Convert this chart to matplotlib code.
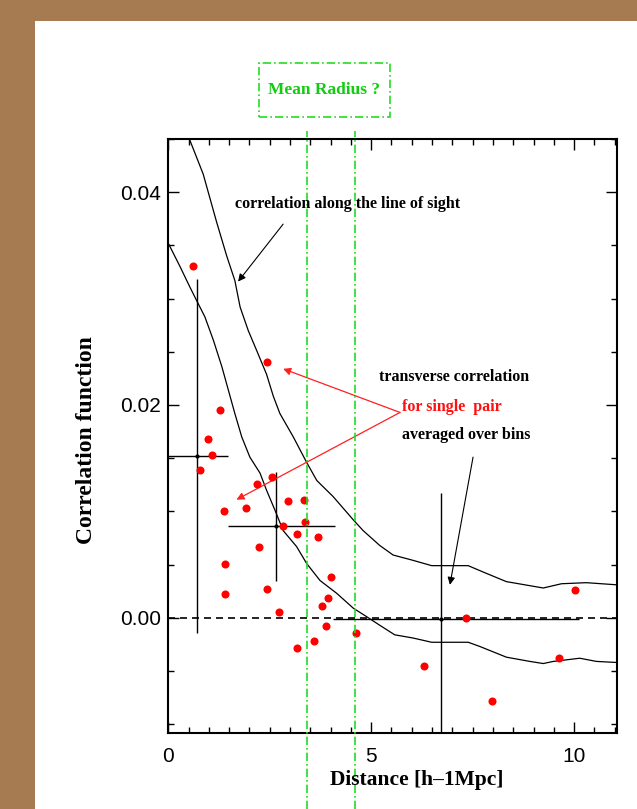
import numpy as np
import matplotlib
matplotlib.use("Agg")
import matplotlib.pyplot as plt
from matplotlib.patches import Rectangle
from matplotlib.lines import Line2D
import matplotlib.transforms as mtransforms

# ---------------- data ----------------
pair_x = [0.62, 2.44, 1.27, 0.97, 1.07, 0.78, 2.55, 2.18, 2.94, 3.35, 1.91, 1.38,
          3.38, 2.83, 3.16, 3.68, 2.23, 1.39, 4.01, 2.44, 1.39, 3.94, 3.78, 2.73,
          3.88, 4.63, 3.16, 3.58, 6.30, 7.97, 7.34, 9.64, 10.02]
pair_y = [0.0331, 0.0240, 0.0195, 0.0168, 0.0153, 0.0139, 0.0132, 0.0126, 0.0110,
          0.0111, 0.0103, 0.0100, 0.0090, 0.0086, 0.0079, 0.0076, 0.0067, 0.0051,
          0.0038, 0.0027, 0.0022, 0.0019, 0.0011, 0.0005, -0.0008, -0.0014,
          -0.0028, -0.0022, -0.0045, -0.0078, 0.0000, -0.0038, 0.0026]

bin_x = [0.70, 2.645, 6.73]
bin_y = [0.0152, 0.0086, -0.0001]
bin_xerr_lo = [0.70, 1.18, 2.67]
bin_xerr_hi = [0.77, 1.47, 3.39]
bin_yerr = [0.0166, 0.0051, 0.0118]

upper_x = [0.53, 0.86, 1.19, 1.44, 1.64, 1.77, 1.97, 2.18, 2.42, 2.59, 2.75, 3.08,
           3.41, 3.66, 4.06, 4.56, 4.80, 5.21, 5.54, 6.03, 6.49, 7.39, 7.76, 8.33,
           9.24, 9.69, 10.30, 11.05]
upper_y = [0.0449, 0.0417, 0.0372, 0.0340, 0.0317, 0.0292, 0.0270, 0.0251, 0.0229,
           0.0208, 0.0192, 0.0170, 0.0146, 0.0129, 0.0114, 0.0092, 0.0082, 0.0068,
           0.0059, 0.0054, 0.0049, 0.0049, 0.0043, 0.0034, 0.0028, 0.0032, 0.0033,
           0.0031]

lower_x = [0.00, 0.29, 0.53, 0.70, 0.90, 1.11, 1.32, 1.48, 1.64, 1.81, 2.01, 2.26,
           2.42, 2.63, 2.83, 3.16, 3.41, 3.74, 4.15, 4.56, 4.89, 5.21, 5.58, 6.03,
           6.49, 7.39, 7.68, 8.33, 8.91, 9.24, 9.49, 10.14, 10.55, 11.05]
lower_y = [0.0352, 0.0330, 0.0311, 0.0298, 0.0283, 0.0261, 0.0236, 0.0214, 0.0192,
           0.0170, 0.0151, 0.0136, 0.0120, 0.0101, 0.0082, 0.0067, 0.0051, 0.0035,
           0.0023, 0.0009, 0.0001, -0.0007, -0.0016, -0.0019, -0.0023, -0.0023,
           -0.0027, -0.0037, -0.0041, -0.0043, -0.0041, -0.0038, -0.0041, -0.0042]

radius_lines = [3.42, 4.59]

x_ticks = [0, 5, 10]
y_ticks = [0.00, 0.02, 0.04]
x_label = "Distance [h\u20131Mpc]"
y_label = "Correlation function"

# ---------------- figure ----------------
W, H = 637, 809
fig = plt.figure(figsize=(W / 100, H / 100), dpi=100)
fig.patch.set_facecolor('#a67b51')
fig.patches.append(Rectangle((35 / W, 0), 1 - 35 / W, 1 - 21 / H,
                             transform=fig.transFigure, facecolor='white',
                             edgecolor='none', zorder=-5))

ax_l, ax_r, ax_t, ax_b = 168.3, 616.7, 139.0, 732.7
ax = fig.add_axes([ax_l / W, 1 - ax_b / H, (ax_r - ax_l) / W, (ax_b - ax_t) / H])
ax.set_facecolor('white')
ax.set_zorder(1)
ax.set_xlim(0, 11.05)
ax.set_ylim(-0.0108, 0.04495)

serif = ['Liberation Serif', 'DejaVu Serif']
sans = ['Liberation Sans Narrow', 'Liberation Sans', 'DejaVu Sans']

# zero line
ax.axhline(0, color='black', lw=1.2, ls=(0, (4.2, 3.0)), zorder=2)

# curves
ax.plot(upper_x, upper_y, color='black', lw=0.9, zorder=3)
ax.plot(lower_x, lower_y, color='black', lw=0.9, zorder=3)

# binned error bars
ax.errorbar(bin_x, bin_y, xerr=[bin_xerr_lo, bin_xerr_hi], yerr=bin_yerr,
            fmt='none', ecolor='black', elinewidth=1.0, capsize=0, zorder=3)
ax.plot(bin_x, bin_y, 'o', color='black', ms=2, zorder=3)

# single pair points
ax.plot(pair_x, pair_y, 'o', color='#ff0000', ms=5.8, mec='none', zorder=4)

# mean radius vertical lines
green = '#22dd22'
trans = mtransforms.blended_transform_factory(ax.transData, ax.transAxes)
y_top = 1 + (ax_t - 131) / (ax_b - ax_t)
y_bot = -(H - ax_b) / (ax_b - ax_t)
for xv in radius_lines:
    ax.add_line(Line2D([xv, xv], [y_bot, y_top], transform=trans, color=green,
                       lw=1.2, ls=(0, (5, 1.8, 1, 1.8)), clip_on=False, zorder=5))

# mean radius box
bx0, bx1, by0, by1 = 259, 390, 63, 116.7
fig.patches.append(Rectangle((bx0 / W, 1 - by1 / H), (bx1 - bx0) / W, (by1 - by0) / H,
                             transform=fig.transFigure, facecolor='none',
                             edgecolor=green, lw=1.2, ls=(0, (5, 1.8, 1, 1.8)), zorder=5))
fig.text((bx0 + bx1) / 2 / W, 1 - 89.5 / H, "Mean Radius ?", color='#11cc11',
         fontsize=12.5, fontweight='bold', family=serif, ha='center', va='center')

# annotations
ax.text(1.65, 0.0389, "correlation along the line of sight", fontsize=11.5,
        fontweight='bold', family=serif, ha='left', va='center', zorder=6)
ax.annotate('', xy=(1.72, 0.0316), xytext=(2.83, 0.0370),
            arrowprops=dict(arrowstyle='-|>', color='black', lw=0.8,
                            mutation_scale=11, shrinkA=0, shrinkB=0))

ax.text(5.19, 0.02263, "transverse correlation", fontsize=11.5, fontweight='bold',
        family=serif, ha='left', va='center', zorder=6)
ax.text(5.75, 0.01981, "for single  pair", fontsize=11.5, fontweight='bold',
        family=serif, color='#ff1010', ha='left', va='center', zorder=6)
ax.text(5.75, 0.01715, "averaged over bins", fontsize=11.5, fontweight='bold',
        family=serif, ha='left', va='center', zorder=6)

for tip in [(2.83, 0.0234), (1.68, 0.0111)]:
    ax.annotate('', xy=tip, xytext=(5.71, 0.0193),
                arrowprops=dict(arrowstyle='-|>', color='#ff2020', lw=0.9,
                                mutation_scale=11, shrinkA=0, shrinkB=0))

ax.annotate('', xy=(6.94, 0.0031), xytext=(7.51, 0.0151),
            arrowprops=dict(arrowstyle='-|>', color='black', lw=0.8,
                            mutation_scale=11, shrinkA=0, shrinkB=0))

# axes styling
for s in ax.spines.values():
    s.set_linewidth(1.5)
ax.set_xticks(x_ticks)
ax.set_yticks(y_ticks)
ax.set_xticklabels([str(v) for v in x_ticks])
ax.set_yticklabels([f"{v:.2f}" for v in y_ticks])
ax.set_xticks(np.arange(0, 11.01, 0.5), minor=True)
ax.set_yticks(np.arange(-0.010, 0.0451, 0.005), minor=True)
ax.tick_params(which='both', direction='in', top=True, right=True, width=1.0)
ax.tick_params(which='major', length=8)
ax.tick_params(which='minor', length=4.5)
ax.tick_params(axis='x', which='major', pad=10)
ax.tick_params(axis='y', which='major', pad=5)
for lab in ax.get_xticklabels() + ax.get_yticklabels():
    lab.set_family(sans)
    lab.set_fontsize(15)

fig.text(416.5 / W, 1 - 780 / H, x_label, fontsize=15.5, fontweight='bold',
         family=serif, ha='center', va='center')
fig.text(87 / W, 1 - 440 / H, y_label, fontsize=17, fontweight='bold',
         family=serif, ha='center', va='center', rotation=90)

fig.savefig('out.png', dpi=100, facecolor=fig.get_facecolor())
